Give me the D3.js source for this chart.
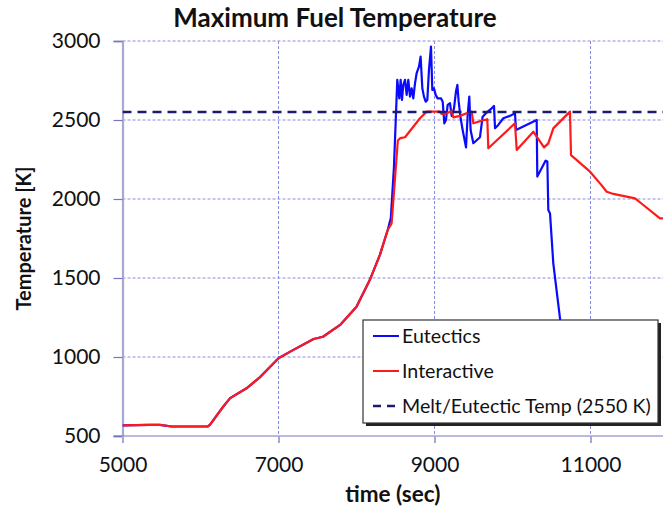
<!DOCTYPE html>
<html>
<head>
<meta charset="utf-8">
<script src="https://cdn.jsdelivr.net/npm/d3@7"></script>
<style>
  html, body { margin: 0; padding: 0; background: #fff; }
  svg { display: block; }
  text { font-family: Lato, "Open Sans", sans-serif; fill: #111; }
</style>
</head>
<body>
<svg id="chart" width="663" height="508"></svg>
<script>
// ---- data ----
const xTicks = [5000, 7000, 9000, 11000];
const yTicks = [500, 1000, 1500, 2000, 2500, 3000];
const meltTemp = 2550;

const interactiveTime = [5000,5350,5480,5630,6090,6120,6290,6380,6590,6760,7000,7150,7450,7570,7790,8000,8170,8300,8400,8450,8463,8530,8560,8622,8814,8900,9070,9092,9156,9220,9241,9327,9412,9476,9498,9583,9677,9690,10032,10054,10267,10404,10459,10523,10737,10750,10994,11122,11208,11293,11571,11677,11891,11950];
const interactiveTemp = [567,570,570,560,560,570,685,740,802,871,992,1034,1114,1128,1203,1318,1487,1646,1804,1846,1930,2370,2385,2391,2511,2553,2553,2538,2542,2557,2517,2526,2543,2553,2479,2492,2505,2321,2479,2310,2426,2327,2352,2447,2553,2278,2173,2099,2046,2032,2004,1962,1878,1878];

const eutecticTime = [5000,5350,5480,5630,6090,6120,6290,6380,6590,6760,7000,7150,7450,7570,7790,8000,8170,8300,8400,8440,8480,8523,8549,8566,8583,8600,8622,8643,8664,8686,8707,8728,8750,8771,8801,8822,8844,8865,8887,8908,8929,8955,8972,8993,9015,9040,9083,9105,9126,9147,9169,9199,9220,9250,9275,9293,9310,9335,9361,9404,9425,9446,9463,9498,9583,9617,9660,9733,9763,9776,9818,9882,9968,10032,10045,10310,10318,10425,10447,10459,10481,10523,10609,10640];
const eutecticTemp = [567,570,570,560,560,570,685,740,802,871,992,1034,1114,1128,1203,1318,1487,1646,1804,1880,2200,2754,2637,2754,2627,2722,2754,2659,2754,2648,2701,2637,2732,2796,2838,2901,2701,2648,2616,2627,2817,2965,2690,2701,2659,2637,2637,2616,2479,2500,2595,2606,2526,2574,2680,2722,2616,2511,2437,2327,2532,2648,2437,2353,2391,2521,2543,2574,2589,2448,2469,2511,2526,2543,2437,2500,2142,2243,2237,1931,1909,1593,1245,1100];

const legendLabels = ["Eutectics", "Interactive", "Melt/Eutectic Temp (2550 K)"];

// ---- layout ----
const svg = d3.select("#chart");
const W = 663, H = 508;
const plotLeft = 122.5, plotTop = 41, plotBottom = 436;

const x = d3.scaleLinear().domain([5000, 12000]).range([plotLeft, plotLeft + 7000 * 0.078]);
const y = d3.scaleLinear().domain([500, 3000]).range([plotBottom, plotTop]);

svg.append("defs").append("clipPath").attr("id", "plotclip")
  .append("rect").attr("x", plotLeft).attr("y", plotTop - 5).attr("width", W - plotLeft).attr("height", plotBottom - plotTop + 5);

// gridlines
const grid = svg.append("g");
grid.selectAll("line.gx").data(xTicks.filter(d => d !== 5000)).enter().append("line")
  .attr("x1", d => x(d)).attr("x2", d => x(d)).attr("y1", plotTop).attr("y2", plotBottom)
  .attr("stroke", "#8a8ae0").attr("stroke-width", 1).attr("stroke-dasharray", "3,2");
grid.selectAll("line.gy").data(yTicks.filter(d => d !== 500)).enter().append("line")
  .attr("x1", plotLeft).attr("x2", W).attr("y1", d => y(d)).attr("y2", d => y(d))
  .attr("stroke", "#8a8ae0").attr("stroke-width", 1).attr("stroke-dasharray", "3,2");

// axes
const yAxis = d3.axisLeft(y).tickValues(yTicks).tickSize(9).tickPadding(13).tickFormat(d3.format("d"));
const gy = svg.append("g").attr("transform", `translate(${plotLeft},0)`).call(yAxis);
gy.select(".domain").attr("stroke", "#a8a8d4").attr("stroke-width", 2.2);
gy.selectAll(".tick line").attr("stroke", "#7676c4").attr("stroke-width", 1.2);
gy.selectAll(".tick text").style("font-size", "21px").style("font-family", "Lato, sans-serif").attr("fill", "#111");

const xAxis = d3.axisBottom(x).tickValues(xTicks).tickSize(7).tickPadding(14).tickFormat(d3.format("d"));
const gx = svg.append("g").attr("transform", `translate(0,${plotBottom})`).call(xAxis);
gx.select(".domain").attr("stroke", "#7676c4").attr("stroke-width", 1.2);
gx.selectAll(".tick line").attr("stroke", "#a8a8d4").attr("stroke-width", 2);
gx.selectAll(".tick text").style("font-size", "21px").style("font-family", "Lato, sans-serif").attr("fill", "#111");
gx.select(".domain").attr("d", `M${plotLeft - 9},0H${W}`);

// series
const plot = svg.append("g").attr("clip-path", "url(#plotclip)");
const lineGen = d3.line().x(d => x(d[0])).y(d => y(d[1]));
const red = interactiveTime.map((t, i) => [t, interactiveTemp[i]]);
const blue = eutecticTime.map((t, i) => [t, eutecticTemp[i]]);

plot.append("path").datum(blue).attr("d", lineGen)
  .attr("fill", "none").attr("stroke", "#0a0aff").attr("stroke-width", 2.2).attr("stroke-linejoin", "round");
plot.append("path").datum(red).attr("d", lineGen)
  .attr("fill", "none").attr("stroke", "#ff1a1a").attr("stroke-width", 2.2).attr("stroke-linejoin", "round");
plot.append("line")
  .attr("x1", plotLeft).attr("x2", W).attr("y1", y(meltTemp)).attr("y2", y(meltTemp))
  .attr("stroke", "#1c1c6e").attr("stroke-width", 2.5).attr("stroke-dasharray", "9,6");

// title & axis labels
svg.append("text").attr("x", 335).attr("y", 27).attr("text-anchor", "middle")
  .style("font-size", "26px").style("font-weight", "bold").text("Maximum Fuel Temperature");
svg.append("text").attr("x", (plotLeft + W) / 2).attr("y", 502).attr("text-anchor", "middle")
  .style("font-size", "22.5px").style("font-weight", "bold").text("time (sec)");
svg.append("text").attr("transform", `translate(31,${(plotTop + plotBottom) / 2}) rotate(-90)`).attr("text-anchor", "middle")
  .style("font-size", "20px").style("font-weight", "bold").text("Temperature [K]");

// legend
const lg = svg.append("g");
const lx = 363, ly = 320, lw = 295, lh = 103;
lg.append("rect").attr("x", lx + 3).attr("y", ly + 3).attr("width", lw).attr("height", lh).attr("fill", "#222");
lg.append("rect").attr("x", lx).attr("y", ly).attr("width", lw).attr("height", lh)
  .attr("fill", "#fff").attr("stroke", "#333").attr("stroke-width", 1.2);
const legendStyles = [
  { color: "#0a0aff", dash: null, w: 2 },
  { color: "#ff1a1a", dash: null, w: 2 },
  { color: "#1c1c6e", dash: "8,6", w: 2.5 }
];
const rowY = [336, 371, 406];
legendLabels.forEach((lab, i) => {
  lg.append("line").attr("x1", 373).attr("x2", 399).attr("y1", rowY[i]).attr("y2", rowY[i])
    .attr("stroke", legendStyles[i].color).attr("stroke-width", legendStyles[i].w)
    .attr("stroke-dasharray", legendStyles[i].dash);
  lg.append("text").attr("x", 402).attr("y", rowY[i] + 6.5)
    .style("font-size", "19.6px").text(lab);
});
</script>
</body>
</html>
